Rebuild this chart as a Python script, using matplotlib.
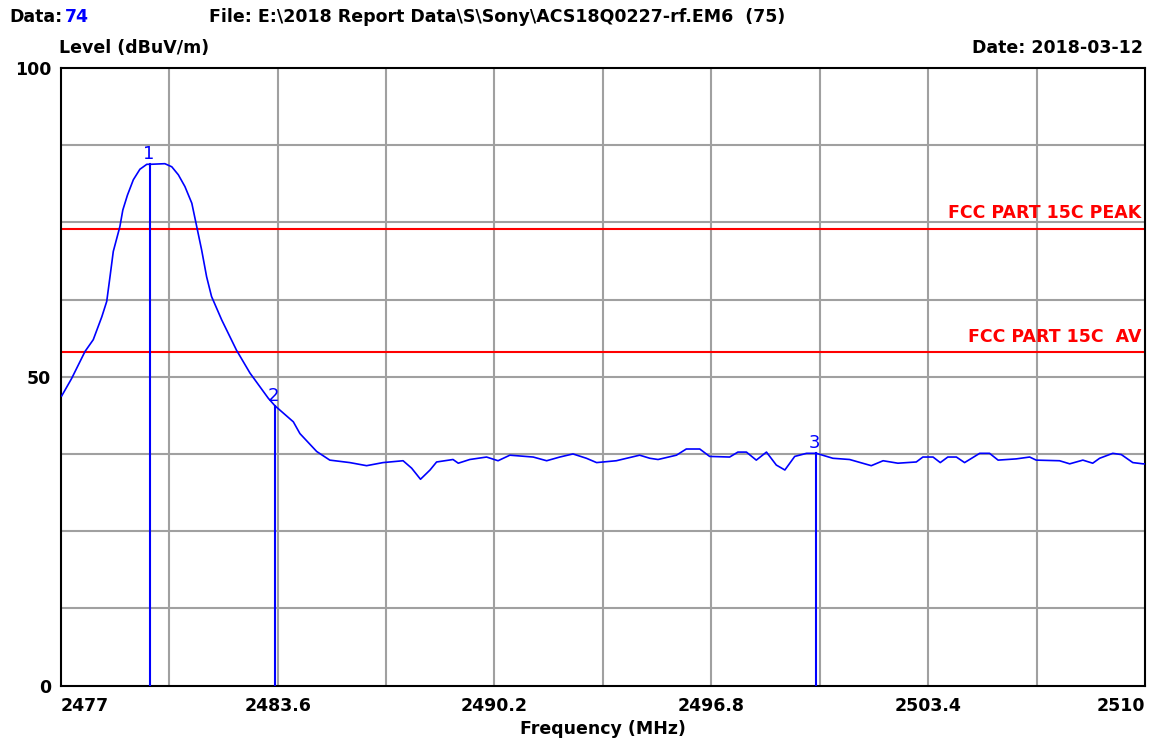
import matplotlib
matplotlib.use("Agg")
import matplotlib.pyplot as plt
import numpy as np

# ---- data ----
freq = [2477.03, 2477.33, 2477.74, 2477.99, 2478.25, 2478.40, 2478.50, 2478.60, 2478.80,
        2478.89, 2479.03, 2479.21, 2479.41, 2479.62, 2479.72, 2480.17, 2480.38, 2480.58,
        2480.78, 2480.99, 2481.14, 2481.29, 2481.44, 2481.59, 2481.90, 2482.35, 2482.76,
        2483.32, 2483.52, 2484.08, 2484.28, 2484.79, 2485.19, 2485.80, 2486.31, 2486.81,
        2487.42, 2487.68, 2487.95, 2488.24, 2488.44, 2488.94, 2489.10, 2489.45, 2489.96,
        2490.31, 2490.67, 2491.38, 2491.79, 2492.19, 2492.59, 2493.00, 2493.31, 2493.91,
        2494.62, 2494.93, 2495.18, 2495.74, 2496.04, 2496.45, 2496.75, 2497.36, 2497.61,
        2497.87, 2498.17, 2498.48, 2498.78, 2499.04, 2499.34, 2499.70, 2500.00, 2500.50,
        2501.01, 2501.67, 2502.03, 2502.48, 2503.04, 2503.24, 2503.55, 2503.77, 2504.00,
        2504.26, 2504.51, 2504.97, 2505.27, 2505.53, 2506.08, 2506.49, 2506.69, 2507.40,
        2507.71, 2508.11, 2508.41, 2508.62, 2509.02, 2509.28, 2509.63, 2509.94, 2510.0]
level = [46.9, 49.7, 54.1, 56.0, 59.7, 62.2, 66.2, 70.3, 74.3,
         77.0, 79.4, 81.9, 83.6, 84.4, 84.4, 84.5, 84.0, 82.7,
         80.8, 78.1, 74.3, 70.5, 66.2, 63.0, 59.2, 54.3, 50.6,
         46.5, 45.3, 42.7, 40.8, 37.9, 36.5, 36.1, 35.6, 36.1,
         36.4, 35.2, 33.4, 34.9, 36.2, 36.6, 36.0, 36.6, 37.0,
         36.4, 37.3, 37.0, 36.4, 37.0, 37.5, 36.8, 36.1, 36.4,
         37.3, 36.8, 36.6, 37.3, 38.3, 38.3, 37.1, 37.0, 37.8,
         37.8, 36.5, 37.8, 35.7, 34.9, 37.1, 37.6, 37.6, 36.8,
         36.6, 35.6, 36.4, 36.0, 36.2, 37.0, 37.0, 36.1, 37.0,
         37.0, 36.1, 37.6, 37.6, 36.5, 36.7, 37.0, 36.5, 36.4,
         35.9, 36.5, 36.0, 36.8, 37.6, 37.4, 36.1, 35.9, 35.9]

marker_ids = ["1", "2", "3"]
marker_freq = [2479.72, 2483.52, 2500.00]
marker_level = [84.4, 45.3, 37.6]

limit_names = ["FCC PART 15C PEAK", "FCC PART 15C  AV"]
limit_values = [74, 54]

xticks = [2477, 2483.6, 2490.2, 2496.8, 2503.4, 2510]
xtick_labels = ["2477", "2483.6", "2490.2", "2496.8", "2503.4", "2510"]
yticks = [0, 50, 100]
ytick_labels = ["0", "50", "100"]

# ---- figure ----
plt.rcParams['font.family'] = ['DejaVu Sans']
FS = 12.5
fig = plt.figure(figsize=(11.7, 7.42), dpi=100)
ax = fig.add_axes([0.0519, 0.0761, 0.9267, 0.8323])
ax.set_xlim(2477, 2510)
ax.set_ylim(0, 100)

# grid
for gx in np.arange(2477, 2510.01, 3.3)[1:-1]:
    ax.axvline(gx, color='#a0a0a0', lw=1.5, zorder=1)
for gy in np.arange(0, 100.01, 12.5)[1:-1]:
    ax.axhline(gy, color='#a0a0a0', lw=1.5, zorder=1)

# limits
for name, v in zip(limit_names, limit_values):
    ax.axhline(v, color='#ff0000', lw=1.5, zorder=2)
    ax.text(2509.9, v + 1.0, name, color='#ff0000', fontsize=FS, fontweight='bold',
            ha='right', va='bottom', zorder=3)

# trace
ax.plot(freq, level, color='#0000ff', lw=1.2, zorder=4)

# markers
for mid, mf, ml in zip(marker_ids, marker_freq, marker_level):
    ax.plot([mf, mf], [0, ml], color='#0000ff', lw=1.5, zorder=4)
    ax.text(mf - 0.05, ml + 0.2, mid, color='#0000ff', fontsize=13,
            ha='center', va='bottom', zorder=5)

for s in ax.spines.values():
    s.set_linewidth(1.5)
    s.set_color('black')

ax.set_xticks(xticks)
ax.set_xticklabels(xtick_labels, fontsize=FS, fontweight='bold')
lbls = ax.get_xticklabels()
lbls[0].set_ha('left')
lbls[-1].set_ha('right')
ax.set_yticks(yticks)
ax.set_yticklabels(ytick_labels, fontsize=FS, fontweight='bold')
ax.tick_params(axis='x', length=0, pad=8)
ax.tick_params(axis='y', length=0, pad=7)
ax.set_xlabel("Frequency (MHz)", fontsize=FS, fontweight='bold', labelpad=4)

# header texts
fig.text(9/1170, 1 - 17/742, "Data:", fontsize=FS, fontweight='bold', va='center', ha='left')
fig.text(65/1170, 1 - 17/742, "74", fontsize=FS, fontweight='bold', color='#0000ff', va='center', ha='left')
fig.text(209/1170, 1 - 17/742, r"File: E:\2018 Report Data\S\Sony\ACS18Q0227-rf.EM6  (75)",
         fontsize=FS, fontweight='bold', va='center', ha='left')
fig.text(59/1170, 1 - 48/742, "Level (dBuV/m)", fontsize=FS, fontweight='bold', va='center', ha='left')
fig.text(1143/1170, 1 - 48/742, "Date: 2018-03-12", fontsize=FS, fontweight='bold', va='center', ha='right')

fig.savefig("out.png", dpi=100)
